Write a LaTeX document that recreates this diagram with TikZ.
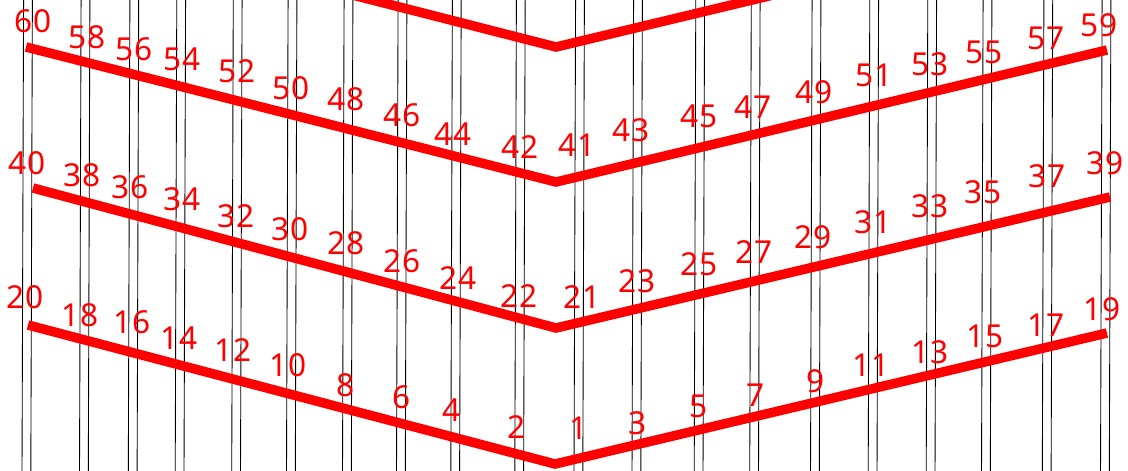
\documentclass[tikz,border=0pt]{standalone}
\usepackage{fontspec}
\setmainfont{Noto Sans}
\usepackage{tikz}

\tikzset{
  post/.style={black,line width=0.5pt},
  chev/.style={red,line width=5.4pt,line join=miter},
  lbl/.style={red,inner sep=0pt,font=\fontsize{18}{18}\selectfont}
}

\begin{document}
\begin{tikzpicture}[x=0.02cm,y=-0.02cm]
  \useasboundingbox (0,0) rectangle (1128,470);
  \clip (0,0) rectangle (1128,470);
  % pairs of posts
  \foreach \c in {28,85.5,134.3,181.2,237.7,292.5,348.5,402.5,456.8,520.8,580,638,700.2,755.7,816.5,874.2,932.2,987.5,1048.3,1106.5}{
    \draw[post] (\c-4.4,-5) -- (\c-6,475);
    \draw[post] (\c+4.4,-5) -- (\c+2.8,475);
  }
  % chevrons
  \coordinate (l0) at (28,-88);  \coordinate (v0) at (556,47);  \coordinate (r0) at (1107,-85);
  \coordinate (l1) at (26,47);   \coordinate (v1) at (556,182); \coordinate (r1) at (1107,50);
  \coordinate (l2) at (33,188);  \coordinate (v2) at (556,328); \coordinate (r2) at (1110,197);
  \coordinate (l3) at (28,325);  \coordinate (v3) at (555,464); \coordinate (r3) at (1107,333);
  \foreach \k in {0,1,2,3}
    \draw[chev] (l\k) -- (v\k) -- (r\k);
  % numbers
  \foreach \n/\x/\y in {60/33/21,58/87/37,56/134/49,54/182/59,52/237/71,50/291/88,
      48/346/99,46/402/115,44/453/134,42/520/147,41/577/145,43/631/130,45/699/116,
      47/753/107,49/814/92,51/874/75,53/930/64,55/984/52,57/1046/38,59/1099/25}
    \node[lbl] (n\n) at (\x,\y) {\n};
  \foreach \n/\x/\y in {40/27/163,38/82/175,36/130/187,34/182/199,32/236/216,30/290/229,
      28/346/243,26/402/261,24/458/278,22/519/296,21/582/297,23/637/281,25/699/264,
      27/754/252,29/813/237,31/873/222,33/930/206,35/983/192,37/1047/176,39/1105/163}
    \node[lbl] (n\n) at (\x,\y) {\n};
  \foreach \n/\x/\y in {20/25/297,18/80/315,16/132/322,14/179/338,12/233/350,10/288/365,
      8/346/385,6/402/397,4/452/410,2/517/427,1/579/428,3/638/423,5/699/406,
      7/756/395,9/816/381,11/871/365,13/930/352,15/985/336,17/1046/325,19/1102/309}
    \node[lbl] (n\n) at (\x,\y) {\n};
\end{tikzpicture}
\end{document}
